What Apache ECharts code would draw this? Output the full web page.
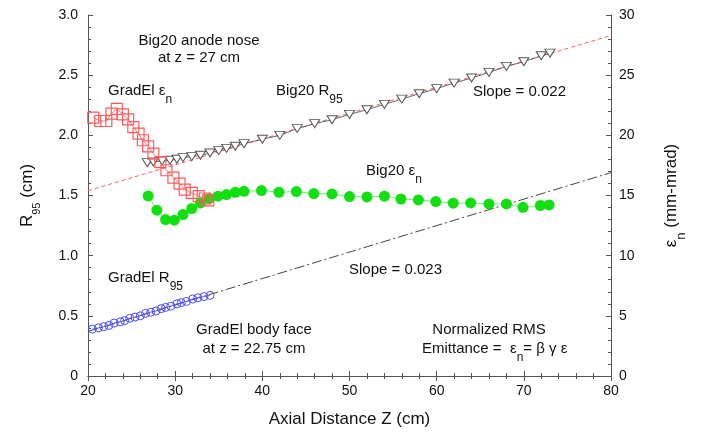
<!DOCTYPE html>
<html><head><meta charset="utf-8">
<script src="https://cdn.jsdelivr.net/npm/echarts@6/dist/echarts.min.js"></script>
<style>html,body{margin:0;padding:0;background:#fff}#c{width:706px;height:435px}</style>
</head><body><div id="c"></div>
<script>
// ---- data ----
const big20R95Z = [26.8,27.5,28.5,29.4,30.2,30.9,31.9,32.9,34.0,35.0,35.9,36.9,37.9,40,42,44,46,48,50,52,54,56,58,60,62,64,66,68,70,72,73];
const big20R95 = [1.773,1.778,1.787,1.793,1.801,1.815,1.823,1.834,1.853,1.873,1.892,1.909,1.931,1.967,2.00,2.056,2.097,2.13,2.174,2.213,2.257,2.301,2.346,2.388,2.434,2.476,2.523,2.573,2.612,2.661,2.683];
const gradElR95Z = [20.5,21.2,21.8,22.4,23.0,23.7,24.2,24.8,25.4,26.0,26.6,27.2,27.8,28.4,28.9,29.5,30.2,30.7,31.3,32.0,32.6,33.3,34.0];
const gradElR95 = [0.39,0.40,0.41,0.42,0.44,0.45,0.46,0.48,0.49,0.50,0.52,0.53,0.54,0.56,0.57,0.58,0.60,0.61,0.62,0.64,0.65,0.66,0.67];
const gradElEpsZ = [20.6,21.4,22.1,22.7,23.3,24.0,24.6,25.2,25.8,26.3,26.9,27.5,28.3,29.0,29.8,30.5,31.1,31.9,32.7,33.4,33.8];
const gradElEps = [21.47,21.19,21.19,21.8,22.2,21.74,21.33,20.69,20.14,19.59,19.09,18.48,17.78,17.1,16.49,15.99,15.49,15.21,14.94,14.75,14.6];
const big20EpsZ = [26.9,27.9,28.9,29.9,30.9,31.9,32.9,33.9,34.9,35.9,36.9,37.9,39.9,41.9,43.9,45.9,48.0,50.0,52.0,54.0,55.9,57.9,59.9,61.9,63.9,66.0,68.0,69.9,71.9,72.9];
const big20Eps = [14.96,13.78,13.0,12.95,13.42,13.92,14.38,14.75,14.94,15.08,15.27,15.35,15.41,15.27,15.33,15.16,15.13,14.91,14.88,14.94,14.71,14.63,14.5,14.36,14.38,14.3,14.3,14.02,14.17,14.22];
const big20Fit = [[20,1.54],[80,2.83]];
const gradElFit = [[20,0.37],[80,1.69]];
const xTicks = {min:20,max:80,interval:10};
const yLeftTicks = {min:0,max:3,interval:0.5};
const yRightTicks = {min:0,max:30,interval:5};

const zip = (a,b)=>a.map((v,i)=>[v,b[i]]);
const FONT = 'Liberation Sans, Arial, sans-serif';
const TS = 15;

const chart = echarts.init(document.getElementById('c'));
const axisLine = {show:true, lineStyle:{color:'#555', width:1}};
const tickIn = {show:true, inside:true, length:5, lineStyle:{color:'#555'}};
const minorIn = {show:true, splitNumber:5, length:3, lineStyle:{color:'#555'}};

function richDef(size, subSize, key) {
  const c = key || 'fill';
  const a = {fontFamily:FONT, fontSize:size, lineHeight:size+2, verticalAlign:'top'};
  const s = {fontFamily:FONT, fontSize:subSize, lineHeight:subSize, padding:[Math.round(size*0.68),0,0,0], verticalAlign:'top'};
  a[c] = '#111'; s[c] = '#111';
  return {a:a, s:s};
}
function richText(x, y, text, align) {
  return {
    type:'text', x:x, y:y - (TS+2)/2, z:100,
    style:{text:text, align: align || 'left', verticalAlign:'top', rich:richDef(TS, 12)}
  };
}
function plain(x, y, t, align) {
  return {type:'text', x:x, y:y, z:100, style:{text:t, fontFamily:FONT, fontSize:TS, fill:'#111', align:align||'left', verticalAlign:'middle'}};
}

chart.setOption({
  animation:false,
  backgroundColor:'#fff',
  grid:{left:88, right:95, top:15, bottom:59},
  xAxis:[
    {type:'value', min:xTicks.min, max:xTicks.max, interval:xTicks.interval, position:'bottom',
     name:'Axial Distance Z (cm)', nameLocation:'middle', nameGap:35,
     nameTextStyle:{fontFamily:FONT, fontSize:17, color:'#111'},
     axisLine:axisLine, axisTick:tickIn, minorTick:minorIn, splitLine:{show:false},
     axisLabel:{fontFamily:FONT, fontSize:14, color:'#111', margin:8}},
    {type:'value', min:xTicks.min, max:xTicks.max, interval:xTicks.interval, position:'top',
     axisLine:axisLine, axisTick:tickIn, minorTick:minorIn, splitLine:{show:false}, axisLabel:{show:false}}
  ],
  yAxis:[
    {type:'value', min:yLeftTicks.min, max:yLeftTicks.max, interval:yLeftTicks.interval, position:'left',
     name:'{a|R}{s|95}{a| (cm)}', nameLocation:'middle', nameGap:50, nameRotate:90,
     nameTextStyle:{rich:richDef(17, 11, 'color')},
     axisLine:axisLine, axisTick:tickIn, minorTick:minorIn, splitLine:{show:false},
     axisLabel:{fontFamily:FONT, fontSize:14, color:'#111', margin:10,
       formatter:v=> v===0 ? '0' : v.toFixed(1)}},
    {type:'value', min:yRightTicks.min, max:yRightTicks.max, interval:yRightTicks.interval, position:'right',
     name:'{a|ε}{s|n}{a| (mm-mrad)}', nameLocation:'middle', nameGap:52, nameRotate:90,
     nameTextStyle:{rich:richDef(17, 13, 'color')},
     axisLine:axisLine, axisTick:tickIn, minorTick:minorIn, splitLine:{show:false},
     axisLabel:{fontFamily:FONT, fontSize:14, color:'#111', margin:8}}
  ],
  series:[
    {type:'line', data:big20Fit, yAxisIndex:0, showSymbol:false, symbol:'none',
     lineStyle:{color:'#ff6060', width:1, type:[4,3]}, z:1},
    {type:'line', data:gradElFit, yAxisIndex:0, showSymbol:false, symbol:'none',
     lineStyle:{color:'#444', width:1, type:[10,3,2,3]}, z:1},
    {type:'line', data:zip(big20R95Z,big20R95), yAxisIndex:0, symbol:'triangle', symbolRotate:180, symbolSize:[10,8],
     itemStyle:{color:'#fff', borderColor:'#555', borderWidth:1}, lineStyle:{color:'#444', width:0.8}, z:3},
    {type:'line', data:zip(gradElR95Z,gradElR95), yAxisIndex:0, symbol:'circle', symbolSize:8,
     itemStyle:{color:'rgba(255,255,255,0)', borderColor:'#4a4aff', borderWidth:1}, lineStyle:{color:'#4a4aff', width:0.8}, z:3},
    {type:'line', data:zip(gradElEpsZ,gradElEps), yAxisIndex:1, symbol:'rect', symbolSize:11,
     itemStyle:{color:'rgba(255,255,255,0)', borderColor:'#ff5a5a', borderWidth:1.2}, lineStyle:{color:'#ff5050', width:0.8}, z:4},
    {type:'line', data:zip(big20EpsZ,big20Eps), yAxisIndex:1, symbol:'circle', symbolSize:11,
     itemStyle:{color:'#10e010', borderWidth:0}, lineStyle:{color:'#70ee70', width:1}, z:2}
  ],
  graphic:[
    plain(199,41,'Big20 anode nose','center'),
    plain(199,58,'at z = 27 cm','center'),
    richText(108,92,'{a|GradEl ε}{s|n}'),
    richText(276,92,'{a|Big20 R}{s|95}'),
    plain(473,92,'Slope = 0.022'),
    richText(366,172,'{a|Big20 ε}{s|n}'),
    plain(349,270,'Slope = 0.023'),
    richText(108,279,'{a|GradEl R}{s|95}'),
    plain(254,330,'GradEl body face','center'),
    plain(254,349,'at z = 22.75 cm','center'),
    plain(489,330,'Normalized RMS','center'),
    richText(422,350,'{a|Emittance =  ε}{s|n}{a|= β γ ε}')
  ]
});
</script></body></html>
